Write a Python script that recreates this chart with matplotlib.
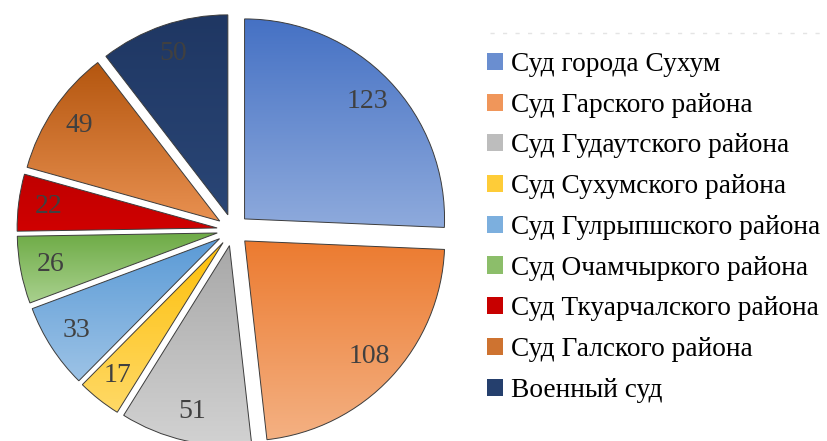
import numpy as np
import matplotlib.pyplot as plt
from matplotlib.patches import Patch
from matplotlib.lines import Line2D
from matplotlib.colors import to_rgb

# данные
courts = [
    "Суд города Сухум",
    "Суд Гарского района",
    "Суд Гудаутского района",
    "Суд Сухумского района",
    "Суд Гулрыпшского района",
    "Суд Очамчыркого района",
    "Суд Ткуарчалского района",
    "Суд Галского района",
    "Военный суд",
]
cases = [123, 108, 51, 17, 33, 26, 22, 49, 50]

# градиент: сверху темнее, снизу светлее
top_colors = ["#4571c4", "#ec7b30", "#a8a8a8", "#fdbf0a", "#5a9ad6", "#6eab46", "#bf0000", "#b4560f", "#1f3763"]
bottom_colors = ["#8eaadc", "#f4b183", "#d2d2d2", "#ffd966", "#9dc3e6", "#a9d18e", "#d00000", "#e89050", "#2a4676"]

plt.rcParams['font.family'] = ['Liberation Serif', 'DejaVu Serif']

fig = plt.figure(figsize=(8.27, 4.41), dpi=100)
ax = fig.add_axes([0, 0, 1, 1])

total = sum(cases)
wedges, _, autotexts = ax.pie(
    cases,
    explode=[0.08] * len(cases),
    startangle=90,
    counterclock=False,
    autopct=lambda p: f"{p * total / 100:.0f}",
    pctdistance=0.85,
    wedgeprops=dict(edgecolor='#3c3c3c', linewidth=0.7),
    textprops=dict(color='#404040', fontsize=20),
)

# заливка градиентом, обрезанная по сектору
for w, c_top, c_bot in zip(wedges, top_colors, bottom_colors):
    ext = w.get_path().get_extents()
    t = np.linspace(0, 1, 256)[:, None, None]
    grad = (1 - t) * np.array(to_rgb(c_top)) + t * np.array(to_rgb(c_bot))
    im = ax.imshow(grad, extent=(ext.x0, ext.x1, ext.y0, ext.y1), origin='upper',
                   aspect='auto', interpolation='bilinear', zorder=1)
    im.set_clip_path(w)
    w.set_facecolor('none')
    w.set_zorder(2)

for t in autotexts:
    t.set_zorder(3)

ax.set_xlim(-233 / 200, (827 - 233) / 200)
ax.set_ylim(-211 / 200, 230 / 200)
ax.set_aspect('equal')
ax.axis('off')

mid_colors = [tuple((np.array(to_rgb(a)) + np.array(to_rgb(b))) / 2) for a, b in zip(top_colors, bottom_colors)]
handles = [Patch(facecolor=c, edgecolor='none') for c in mid_colors]
ax.legend(handles, courts, loc='upper left', bbox_to_anchor=(487 / 827, 1 - 52 / 441),
          bbox_transform=fig.transFigure, frameon=False, fontsize=19.7,
          handlelength=0.58, handleheight=0.58, handletextpad=0.3,
          labelspacing=0.575, borderpad=0, borderaxespad=0)

# бледная пунктирная линия над легендой
fig.add_artist(Line2D([490 / 827, 822 / 827], [1 - 33 / 441] * 2, transform=fig.transFigure,
                      color='#e4e4e4', linewidth=1, linestyle=(0, (3, 6))))

fig.savefig("out.png", dpi=100)
